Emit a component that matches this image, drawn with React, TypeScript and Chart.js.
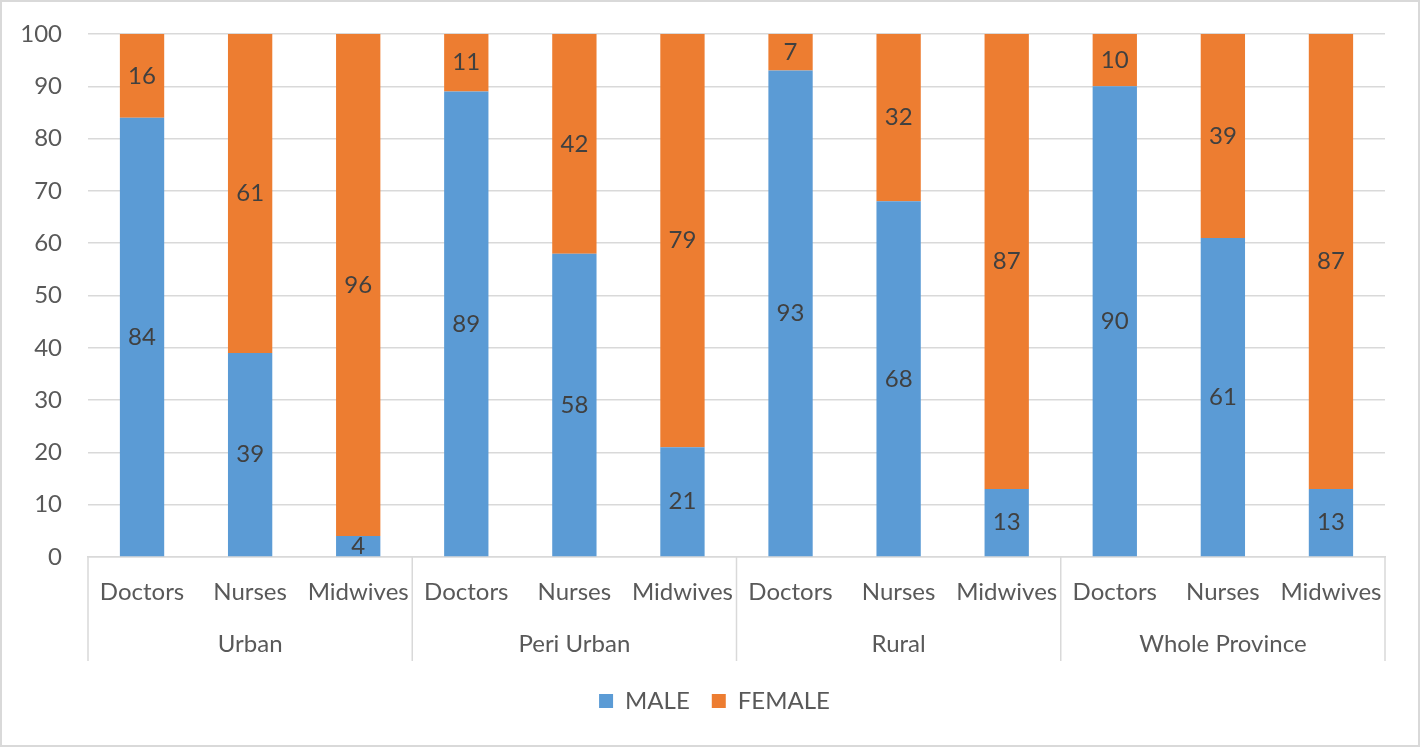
import React, { useEffect, useRef } from 'react';
import { Chart, registerables } from 'chart.js';

Chart.register(...registerables);

const groups = ['Urban', 'Peri Urban', 'Rural', 'Whole Province'];
const roles = ['Doctors', 'Nurses', 'Midwives'];
const maleValues = [84, 39, 4, 89, 58, 21, 93, 68, 13, 90, 61, 13];
const femaleValues = [16, 61, 96, 11, 42, 79, 7, 32, 87, 10, 39, 87];
const yMin = 0;
const yMax = 100;
const yStep = 10;

const categories = groups.flatMap(() => roles);

const FONT = 'Lato';
const FS = 24;
const TEXT = '#595959';
const LABEL = '#404040';
const GRID = '#d9d9d9';

const valueLabels = {
  id: 'valueLabels',
  afterDatasetsDraw(chart: any) {
    const ctx = chart.ctx;
    ctx.save();
    ctx.font = `${FS}px ${FONT}`;
    ctx.fillStyle = LABEL;
    ctx.textAlign = 'center';
    ctx.textBaseline = 'middle';
    chart.data.datasets.forEach((ds: any, di: number) => {
      const meta = chart.getDatasetMeta(di);
      meta.data.forEach((el: any, i: number) => {
        const p = el.getProps(['x', 'y', 'base'], true);
        ctx.fillText(String(ds.data[i]), p.x, (p.y + p.base) / 2);
      });
    });
    ctx.restore();
  },
};

const groupAxis = {
  id: 'groupAxis',
  afterDraw(chart: any) {
    const ctx = chart.ctx;
    const x = chart.scales.x;
    const area = chart.chartArea;
    const n = roles.length;
    ctx.save();
    ctx.strokeStyle = GRID;
    ctx.lineWidth = 1.5;
    const bounds: number[] = [area.left];
    for (let g = 1; g < groups.length; g++) {
      const a = x.getPixelForValue(g * n - 1);
      const b = x.getPixelForValue(g * n);
      bounds.push((a + b) / 2);
    }
    bounds.push(area.right);
    const bottom = area.bottom + 104;
    bounds.forEach((bx) => {
      ctx.beginPath();
      ctx.moveTo(bx, area.bottom);
      ctx.lineTo(bx, bottom);
      ctx.stroke();
    });
    ctx.font = `${FS}px ${FONT}`;
    ctx.fillStyle = TEXT;
    ctx.textAlign = 'center';
    ctx.textBaseline = 'middle';
    groups.forEach((g, gi) => {
      const cx = (x.getPixelForValue(gi * n) + x.getPixelForValue(gi * n + n - 1)) / 2;
      ctx.fillText(g, cx, area.bottom + 87);
    });
    ctx.restore();
  },
};

const legendShift = {
  id: 'legendShift',
  afterLayout(chart: any) {
    const l = chart.legend;
    if (l) {
      l.left += 21;
      l.right += 21;
    }
  },
};

export default function App() {
  const ref = useRef<HTMLCanvasElement | null>(null);

  useEffect(() => {
    document.body.style.margin = '0';
    if (!ref.current) return;
    const chart = new Chart(ref.current, {
      type: 'bar',
      data: {
        labels: categories,
        datasets: [
          {
            label: 'MALE',
            data: maleValues,
            backgroundColor: '#5B9BD5',
            categoryPercentage: 1,
            barPercentage: 0.41,
          },
          {
            label: 'FEMALE',
            data: femaleValues,
            backgroundColor: '#ED7D31',
            categoryPercentage: 1,
            barPercentage: 0.41,
          },
        ],
      },
      options: {
        animation: false,
        responsive: false,
        maintainAspectRatio: false,
        layout: { padding: { top: 32, right: 33, left: 0, bottom: 22 } },
        scales: {
          x: {
            stacked: true,
            grid: { display: false, drawTicks: false },
            border: { display: true, color: GRID, width: 1.5 },
            ticks: {
              color: TEXT,
              font: { family: FONT, size: FS },
              padding: 21,
              maxRotation: 0,
              autoSkip: false,
            },
            afterFit(scale: any) {
              scale.height = 110;
            },
          },
          y: {
            stacked: true,
            min: yMin,
            max: yMax,
            grid: { color: GRID, lineWidth: 1.5, drawTicks: false },
            border: { display: false },
            ticks: {
              stepSize: yStep,
              color: TEXT,
              font: { family: FONT, size: FS },
              padding: 26,
            },
            afterFit(scale: any) {
              scale.width = 86;
              scale.paddingTop = 0;
              scale.paddingBottom = 0;
            },
          },
        },
        plugins: {
          legend: {
            position: 'bottom',
            labels: {
              boxWidth: 14,
              boxHeight: 14,
              padding: 22,
              color: TEXT,
              font: { family: FONT, size: FS },
            },
          },
          tooltip: { enabled: false },
        },
      },
      plugins: [valueLabels, groupAxis, legendShift],
    });
    return () => chart.destroy();
  }, []);

  return (
    <div
      style={{
        position: 'absolute',
        left: 0,
        top: 0,
        width: 1420,
        height: 747,
        boxSizing: 'border-box',
        border: '2px solid #d9d9d9',
        background: '#fff',
      }}
    >
      <canvas ref={ref} width={1416} height={743} style={{ display: 'block', width: 1416, height: 743 }} />
    </div>
  );
}
